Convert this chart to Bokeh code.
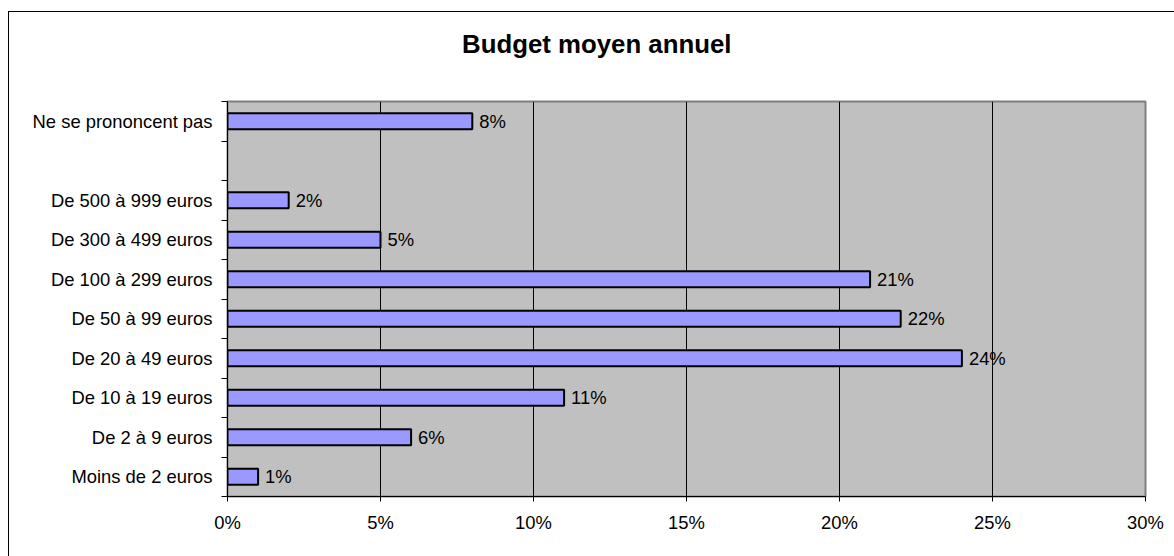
from bokeh.plotting import figure
from bokeh.models import ColumnDataSource, Range1d, FixedTicker, Div
from bokeh.layouts import column
from bokeh.core.properties import value
from bokeh.embed import file_html
from bokeh.resources import INLINE

# Data (bottom to top); "" is the empty slot in the original chart
categories = ["Moins de 2 euros", "De 2 à 9 euros", "De 10 à 19 euros",
              "De 20 à 49 euros", "De 50 à 99 euros", "De 100 à 299 euros",
              "De 300 à 499 euros", "De 500 à 999 euros", "",
              "Ne se prononcent pas"]
values = [1, 6, 11, 24, 22, 21, 5, 2, None, 8]
x_ticks = [0, 5, 10, 15, 20, 25, 30]
x_tick_labels = ["0%", "5%", "10%", "15%", "20%", "25%", "30%"]
title_text = "Budget moyen annuel"

FONT = "Liberation Sans"
FS = "18.4px"

ys, vs, labels = [], [], []
for i, v in enumerate(values):
    if v is not None:
        ys.append(i + 0.5)
        vs.append(v)
        labels.append(f"{v}%")
src = ColumnDataSource(dict(y=ys, v=vs, label=labels))

title_div = Div(
    text=(f'<div style="padding-left:448px;padding-top:13px;white-space:nowrap;'
          f'font-family:\'Liberation Sans\';font-size:25.8px;font-weight:bold;'
          f'line-height:normal;color:black;">{title_text}</div>'),
    width=1164, height=71)

p = figure(width=1164, height=463, output_backend="svg", toolbar_location=None,
           x_range=Range1d(0, 30), y_range=Range1d(0, len(categories)),
           min_border_left=218, min_border_top=8, min_border_right=28,
           min_border_bottom=60)

p.background_fill_color = "#C0C0C0"
p.border_fill_color = "white"
p.outline_line_color = "#808080"
p.outline_line_width = 2

p.hbar(y="y", right="v", left=0, height=0.4, source=src,
       fill_color="#9999FF", line_color="black", line_width=2)
p.text(x="v", y="y", text="label", source=src, x_offset=7,
       text_baseline="middle", text_align="left",
       text_font=value(FONT), text_font_size=FS, text_color="black")

# x axis
p.xaxis.ticker = FixedTicker(ticks=x_ticks)
p.xaxis.major_label_overrides = {t_: l for t_, l in zip(x_ticks, x_tick_labels)}
p.xaxis.major_tick_out = 5
p.xaxis.major_tick_in = 0
p.xaxis.minor_tick_out = 0
p.xaxis.minor_tick_in = 0
p.xaxis.major_label_standoff = 10
p.xaxis.axis_line_color = "black"
p.xaxis.axis_line_width = 1
p.xaxis.major_label_text_font = FONT
p.xaxis.major_label_text_font_size = FS
p.xaxis.major_label_text_color = "black"

# y axis: labels at centers, ticks at boundaries
centers = [i + 0.5 for i in range(len(categories))]
bounds = list(range(len(categories) + 1))
p.yaxis.ticker = FixedTicker(ticks=centers, minor_ticks=bounds)
p.yaxis.major_label_overrides = {c: l for c, l in zip(centers, categories)}
p.yaxis.major_tick_out = 0
p.yaxis.major_tick_in = 0
p.yaxis.minor_tick_out = 6
p.yaxis.minor_tick_in = 0
p.yaxis.minor_tick_line_color = "black"
p.yaxis.major_label_standoff = 9
p.yaxis.axis_line_color = "black"
p.yaxis.major_label_text_font = FONT
p.yaxis.major_label_text_font_size = FS
p.yaxis.major_label_text_color = "black"

p.xgrid.ticker = FixedTicker(ticks=x_ticks[1:-1])
p.xgrid.grid_line_color = "black"
p.xgrid.grid_line_width = 1
p.ygrid.grid_line_color = None

layout = column(title_div, p, spacing=0)
layout.styles = {"border-left": "1px solid black", "border-top": "1px solid black",
                 "margin-top": "11px", "margin-left": "8px"}

open("out.html", "w").write(file_html(layout, INLINE))
